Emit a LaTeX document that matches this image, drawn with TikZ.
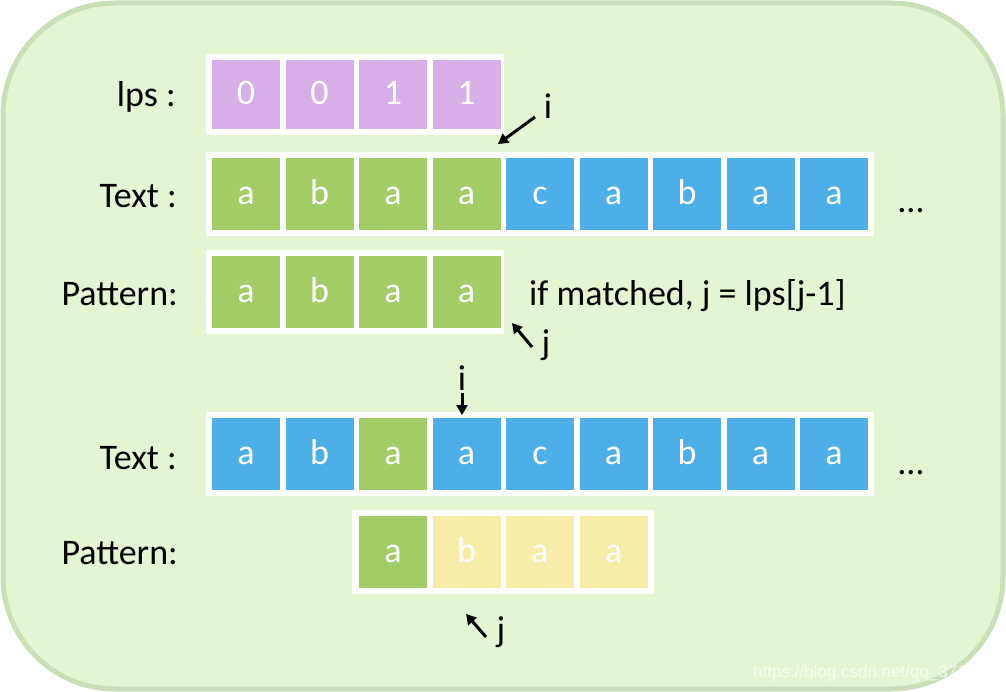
\documentclass[tikz,border=0pt]{standalone}
\usepackage{fontspec}
\setmainfont{Carlito}
\newfontfamily\wmfont{Liberation Sans}
\usetikzlibrary{arrows.meta}
\definecolor{bggreen}{HTML}{E4F5D4}
\definecolor{bdgreen}{HTML}{C9DFB8}
\definecolor{cpurple}{HTML}{D6AEE8}
\definecolor{cgreen}{HTML}{A3CC66}
\definecolor{cblue}{HTML}{4DAEE8}
\definecolor{cyellow}{HTML}{F6EDA8}
\begin{document}
\begin{tikzpicture}[x=1pt,y=-1pt,
  font=\fontsize{36}{42}\selectfont,
  cell/.style={minimum width=68pt,minimum height=72pt,inner sep=0pt,text=white,
    text height=21pt,text depth=0pt},
  lpscell/.style={cell,minimum height=69pt,fill=cpurple},
  gcell/.style={cell,fill=cgreen},
  bcell/.style={cell,fill=cblue},
  ycell/.style={cell,fill=cyellow},
  lbl/.style={anchor=base east,inner sep=0pt},
  ptr/.style={line width=3pt,-{Triangle[length=10pt,width=11pt]}},
  frame/.style={fill=white}]
\useasboundingbox (0,0) rectangle (1006,692);
\draw[line width=5pt,draw=bdgreen,fill=bggreen,rounded corners=112pt] (3,3) rectangle (1003,689);

% frames
\fill[frame] (206,54) rectangle (504,135);
\fill[frame] (206,152) rectangle (874,236);
\fill[frame] (206,250) rectangle (504,334);
\fill[frame] (206,412) rectangle (874,496);
\fill[frame] (352,510) rectangle (654,594);

% lps row
\node[lbl] (lpsl) at (176,107) {lps :};
\node[lpscell] (l1) at (246,94.5) {0};
\node[lpscell] (l2) at (319.5,94.5) {0};
\node[lpscell] (l3) at (393,94.5) {1};
\node[lpscell] (l4) at (466.5,94.5) {1};

% text row 1
\node[lbl] (t1l) at (177,208) {Text :};
\node[gcell] (a1) at (246,194) {a};
\node[gcell] (a2) at (319.5,194) {b};
\node[gcell] (a3) at (393,194) {a};
\node[gcell] (a4) at (466.5,194) {a};
\node[bcell] (a5) at (540,194) {c};
\node[bcell] (a6) at (613.5,194) {a};
\node[bcell] (a7) at (687,194) {b};
\node[bcell] (a8) at (760.5,194) {a};
\node[bcell] (a9) at (834,194) {a};
\node[anchor=base,inner sep=0pt] (dots1) at (911,213) {…};

% pattern row 1
\node[lbl] (p1l) at (178,306) {Pattern:};
\node[gcell] (b1) at (246,292) {a};
\node[gcell] (b2) at (319.5,292) {b};
\node[gcell] (b3) at (393,292) {a};
\node[gcell] (b4) at (466.5,292) {a};
\node[anchor=base west,inner sep=0pt] (note) at (529,306) {if matched, j = lps[j-1]};

% pointers 1
\node[inner sep=0pt] (i1) at (548,106) {i};
\coordinate (i1t) at (535,117);
\coordinate (i1h) at (498,144);
\draw[ptr] (i1t) -- (i1h);
\node[inner sep=0pt] (j1) at (546,345) {j};
\coordinate (j1t) at (532,347);
\coordinate (j1h) at (512,323);
\draw[ptr] (j1t) -- (j1h);

% text row 2
\node[lbl] (t2l) at (177,469) {Text :};
\node[bcell] (c1) at (246,454) {a};
\node[bcell] (c2) at (319.5,454) {b};
\node[gcell] (c3) at (393,454) {a};
\node[bcell] (c4) at (466.5,454) {a};
\node[bcell] (c5) at (540,454) {c};
\node[bcell] (c6) at (613.5,454) {a};
\node[bcell] (c7) at (687,454) {b};
\node[bcell] (c8) at (760.5,454) {a};
\node[bcell] (c9) at (834,454) {a};
\node[anchor=base,inner sep=0pt] (dots2) at (911,474) {…};

% pattern row 2
\node[lbl] (p2l) at (178,564) {Pattern:};
\node[gcell] (d1) at (393,552) {a};
\node[ycell] (d2) at (466.5,552) {b};
\node[ycell] (d3) at (540,552) {a};
\node[ycell] (d4) at (613.5,552) {a};

% pointers 2
\node[inner sep=0pt] (i2) at (462,378) {i};
\coordinate (i2h) at (462,415);
\draw[ptr] ([yshift=-2pt]i2.south) -- (i2h);
\node[inner sep=0pt] (j2) at (501,632) {j};
\coordinate (j2t) at (486,637);
\coordinate (j2h) at (466,614);
\draw[ptr] (j2t) -- (j2h);

% watermark
\node[anchor=base west,inner sep=0pt,text=white,opacity=0.75,font=\fontsize{17}{19}\wmfont] (wm) at (753,677) {https://blog.csdn.net/qq\_3712};
\end{tikzpicture}
\end{document}
